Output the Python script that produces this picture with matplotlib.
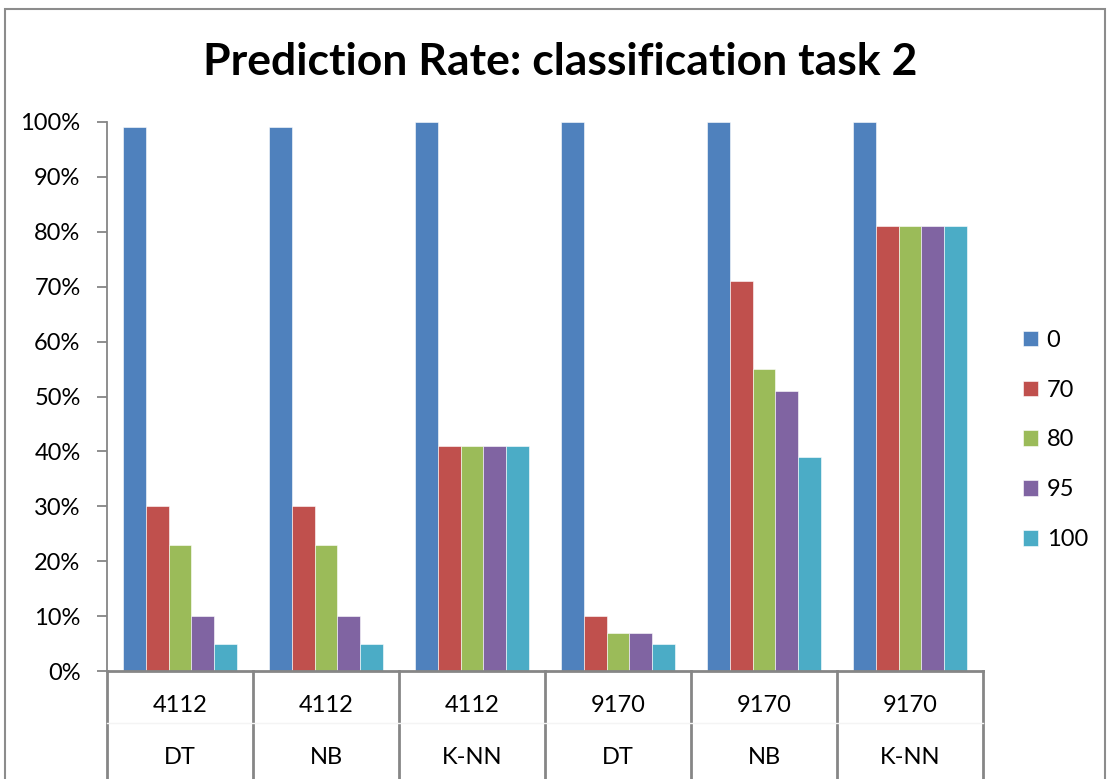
import numpy as np
import matplotlib.pyplot as plt
from matplotlib.patches import Rectangle
from matplotlib.transforms import blended_transform_factory

# data
datasets = ['4112', '4112', '4112', '9170', '9170', '9170']
methods = ['DT', 'NB', 'K-NN', 'DT', 'NB', 'K-NN']
series_names = ['0', '70', '80', '95', '100']
rate_0 = [99, 99, 100, 100, 100, 100]
rate_70 = [30, 30, 41, 10, 71, 81]
rate_80 = [23, 23, 41, 7, 55, 81]
rate_95 = [10, 10, 41, 7, 51, 81]
rate_100 = [5, 5, 41, 5, 39, 81]
colors = ['#4F81BD', '#C0504D', '#9BBB59', '#8064A2', '#4BACC6']

plt.rcParams['font.family'] = ['Lato', 'DejaVu Sans']

W, H = 1108, 779
fig = plt.figure(figsize=(W / 100, H / 100), dpi=100)
ax = fig.add_axes([107 / W, 1 - 671 / H, (983 - 107) / W, (671 - 122) / H])

all_series = [rate_0, rate_70, rate_80, rate_95, rate_100]
n_groups = len(datasets)
bw = 0.155
x = np.arange(n_groups) + 0.5
for i, (vals, c, name) in enumerate(zip(all_series, colors, series_names)):
    off = (i - 2) * bw
    ax.bar(x + off, vals, width=bw, color=c, label=name, zorder=2,
           edgecolor='white', linewidth=0.4)

ax.set_xlim(0, n_groups)
ax.set_ylim(0, 100)
ax.set_yticks(np.arange(0, 101, 10))
ax.set_yticklabels([f'{v}%' for v in range(0, 101, 10)], fontsize=17)
ax.set_xticks([])
for s in ['top', 'right']:
    ax.spines[s].set_visible(False)
gray = '#868686'
ax.spines['left'].set_color(gray)
ax.spines['bottom'].set_color(gray)
ax.spines['left'].set_linewidth(1.3)
ax.spines['bottom'].set_linewidth(2)
ax.tick_params(axis='y', colors=gray, length=7, width=1.3, labelcolor='black', pad=12)

# two-level category labels under the axis
trans = blended_transform_factory(ax.transData, fig.transFigure)
for k in range(n_groups + 1):
    ax.plot([k, k], [1 - 671 / H, 0], transform=trans, color=gray, lw=2, clip_on=False)
ax.plot([0, n_groups], [1 - 723 / H] * 2, transform=trans, color='#f4f4f4', lw=1, clip_on=False)
for k in range(n_groups):
    ax.text(k + 0.5, 1 - 705 / H, datasets[k], transform=trans, ha='center', va='center', fontsize=17)
    ax.text(k + 0.5, 1 - 757 / H, methods[k], transform=trans, ha='center', va='center', fontsize=17)

fig.text(560 / W, 1 - 62 / H, 'Prediction Rate: classification task 2',
         ha='center', va='center', fontsize=32, fontweight='bold')

leg = ax.legend(loc='center left', bbox_to_anchor=(1023 / W, 1 - 440 / H),
                bbox_transform=fig.transFigure, frameon=False, fontsize=17,
                handlelength=0.65, handleheight=0.65, handletextpad=0.35, labelspacing=1.22,
                borderpad=0, borderaxespad=0)

# outer chart frame
fig.patches.append(Rectangle((5 / W, -0.05), 1100 / W, 1.05 - 9 / H, transform=fig.transFigure,
                             fill=False, edgecolor='#8c8c8c', lw=1.5))

fig.savefig('out.png', dpi=100)
